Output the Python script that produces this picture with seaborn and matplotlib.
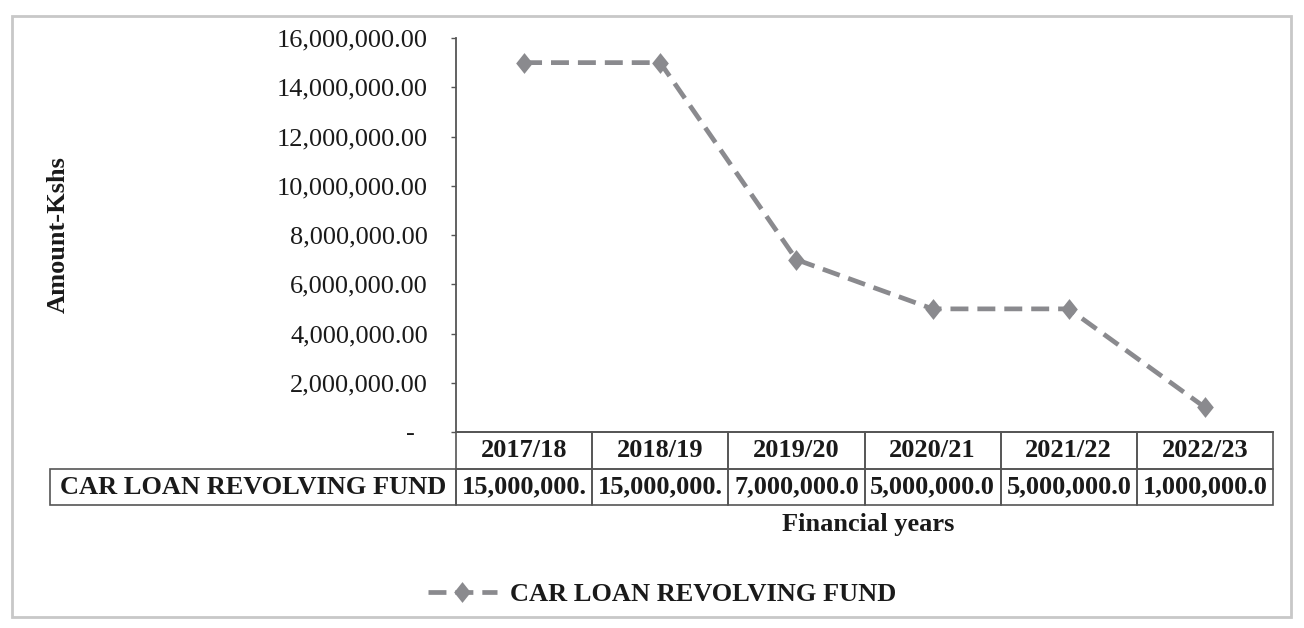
import matplotlib
matplotlib.use("Agg")
import matplotlib.pyplot as plt
import seaborn as sns
import pandas as pd
from matplotlib.table import Table
from matplotlib.ticker import FuncFormatter, FixedLocator
from matplotlib.patches import Rectangle

# ---- data ----
years = ["2017/18", "2018/19", "2019/20", "2020/21", "2021/22", "2022/23"]
amounts = [15000000, 15000000, 7000000, 5000000, 5000000, 1000000]
series_name = "CAR LOAN REVOLVING FUND"
y_ticks = [0, 2000000, 4000000, 6000000, 8000000, 10000000, 12000000, 14000000, 16000000]
y_label = "Amount-Kshs"
x_label = "Financial years"

# ---- style ----
W, H = 1304, 628
sns.set_theme(style="white")
plt.rcParams["font.family"] = ["Liberation Serif", "DejaVu Serif"]
LINE_GRAY = "#8a8a8e"
AX_GRAY = "#555555"
TXT = "#1a1a1a"
FS = 19

def fx(px):
    return px / W

def fy(py):
    return 1 - py / H

fig = plt.figure(figsize=(W / 100, H / 100), dpi=100)
ax_l, ax_r, ax_t, ax_b = 456, 1273, 38, 432
ax = fig.add_axes([fx(ax_l), fy(ax_b), (ax_r - ax_l) / W, (ax_b - ax_t) / H])

df = pd.DataFrame({"year": years, "amount": amounts})
diamond = [(0, 1), (0.8, 0), (0, -1), (-0.8, 0), (0, 1)]
sns.lineplot(data=df, x="year", y="amount", ax=ax, color=LINE_GRAY, lw=3.4,
             marker=diamond, markersize=15, markeredgewidth=0,
             markerfacecolor=LINE_GRAY, sort=False, label=series_name, legend=False)
line = ax.lines[0]
line.set_dashes([3.8, 1.9])

ax.set_xlim(-0.5, len(years) - 0.5)
ax.set_ylim(y_ticks[0], y_ticks[-1])
ax.yaxis.set_major_locator(FixedLocator(y_ticks))
ax.yaxis.set_major_formatter(FuncFormatter(lambda v, p: "-  " if v == 0 else f"{v:,.2f}"))
ax.set_xlabel("")
ax.set_ylabel("")
ax.grid(False)
for s in ["top", "right"]:
    ax.spines[s].set_visible(False)
for s in ["left", "bottom"]:
    ax.spines[s].set_color(AX_GRAY)
    ax.spines[s].set_linewidth(1.3)
ax.tick_params(axis="y", left=True, direction="out", length=3.6, width=1.0,
               color=AX_GRAY, pad=16.5, labelsize=FS, labelcolor=TXT)
ax.tick_params(axis="x", bottom=False, labelbottom=False)
ax.patch.set_alpha(0)

# ---- data table ----
tb_l, tb_r, tb_top, tb_mid, tb_bot = 50, 1273, 432, 469, 505
axw, axh = ax_r - ax_l, ax_b - ax_t
bbox = [(tb_l - ax_l) / axw, -(tb_bot - tb_top) / axh,
        (tb_r - tb_l) / axw, (tb_bot - tb_top) / axh]
tbl = Table(ax, bbox=bbox)
label_w = ax_l - tb_l
col_w = (tb_r - ax_l) / len(years)
h0, h1 = tb_mid - tb_top, tb_bot - tb_mid
c = tbl.add_cell(0, 0, width=label_w, height=h0, text="", loc="center")
c.visible_edges = ""
for j, yr in enumerate(years):
    tbl.add_cell(0, j + 1, width=col_w, height=h0, text=yr, loc="center")
tbl.add_cell(1, 0, width=label_w, height=h1, text=series_name, loc="center")
for j, v in enumerate(amounts):
    tbl.add_cell(1, j + 1, width=col_w, height=h1, text=f"{v:,.2f}"[:11], loc="center")
tbl.auto_set_font_size(False)
tbl.set_fontsize(FS)
for (r, cidx), cell in tbl.get_celld().items():
    cell.set_edgecolor(AX_GRAY)
    cell.set_linewidth(1.2)
    cell.set_facecolor("none")
    cell.PAD = 0.02
    cell.get_text().set_fontweight("bold")
    cell.get_text().set_color(TXT)
ax.add_table(tbl)

# ---- titles ----
fig.text(fx(58), fy(235), y_label, rotation=90, ha="center", va="center",
         fontsize=FS, fontweight="bold", color=TXT)
fig.text(fx(868), fy(524), x_label, ha="center", va="center",
         fontsize=FS, fontweight="bold", color=TXT)

# ---- legend ----
leg = fig.legend(handles=[line], labels=[series_name], loc="center",
                 bbox_to_anchor=(fx(662), fy(594)), frameon=False,
                 prop={"size": FS, "weight": "bold"}, handlelength=2.6,
                 handletextpad=0.5)
for t in leg.get_texts():
    t.set_color(TXT)

# ---- outer frame (chart border) ----
fig.add_artist(Rectangle((fx(12), fy(617)), (1291 - 12) / W, (617 - 16) / H,
                         fill=False, ec="#c8c8c8", lw=2, transform=fig.transFigure))

fig.savefig("out.png", dpi=100)
